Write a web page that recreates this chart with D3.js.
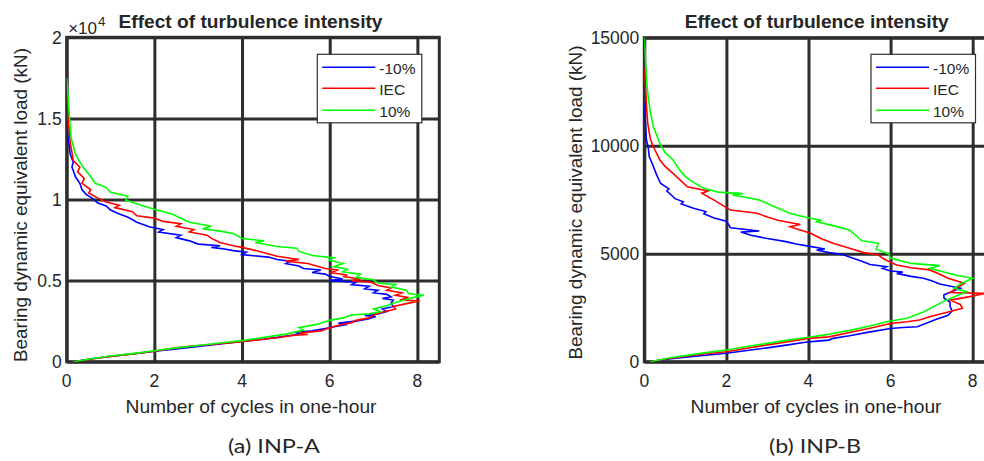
<!DOCTYPE html>
<html><head><meta charset="utf-8">
<script src="https://cdn.jsdelivr.net/npm/d3@7"></script>
<style>
html,body{margin:0;padding:0;background:#fff;}
svg{display:block;}
text{font-family:"Liberation Sans",Arial,sans-serif;fill:#262626;}
</style></head>
<body>
<svg id="chart" width="984" height="461"></svg>
<script>
// ---------- data ----------
const seriesNames = ["-10%", "IEC", "10%"];
const seriesColors = ["#0000ff", "#ff0000", "#00ff00"];
const xTicks = [0, 2, 4, 6, 8];
const yTicksA = [0, 5000, 10000, 15000, 20000];
const yTickLabelsA = ["0", "0.5", "1", "1.5", "2"];
const yTicksB = [0, 5000, 10000, 15000];
const yTickLabelsB = ["0", "5000", "10000", "15000"];
const titleText = "Effect of turbulence intensity";
const xLabelText = "Number of cycles in one-hour";
const yLabelText = "Bearing dynamic equivalent load (kN)";
const captions = ["(a) INP-A", "(b) INP-B"];

// [cycles, load kN]
const inpA_minus10 = [[0.15,0],[0.5,150],[0.9,300],[1.3,420],[1.7,540],[2.0,640],[2.4,760],[2.8,880],[3.2,1000],[3.6,1130],[4.0,1250],[4.4,1370],[4.8,1500],[5.1,1620],[5.4,1750],[5.2,1800],[5.6,1900],[5.9,2050],[6.1,2150],[6.4,2300],[6.2,2380],[6.6,2500],[6.9,2650],[7.05,2780],[6.8,2850],[7.1,2950],[7.3,3100],[7.2,3250],[7.45,3400],[7.4,3600],[7.45,3800],[7.2,3900],[7.4,4000],[7.3,4150],[7.0,4250],[7.1,4400],[6.8,4500],[6.9,4650],[6.5,4750],[6.6,4900],[6.0,5000],[6.3,5100],[6.0,5250],[5.9,5400],[5.6,5500],[5.8,5650],[5.4,5750],[5.3,5900],[5.0,6050],[5.1,6200],[4.8,6300],[4.6,6450],[4.0,6600],[4.1,6750],[3.8,6850],[3.6,6950],[3.3,7050],[3.5,7150],[3.0,7250],[2.8,7450],[2.5,7650],[2.6,7800],[2.1,8000],[2.2,8150],[1.9,8300],[1.6,8600],[1.4,8900],[1.2,9100],[1.0,9350],[0.9,9600],[0.7,9800],[0.6,10050],[0.45,10300],[0.35,10600],[0.3,11000],[0.2,11400],[0.12,12000],[0.15,12300],[0.08,12800],[0.05,13500],[0.02,14000],[0,14300]];
const inpA_iec = [[0.15,0],[0.6,180],[1.0,320],[1.5,480],[2.0,640],[2.5,850],[2.8,950],[3.3,1060],[3.8,1180],[4.3,1320],[4.8,1480],[5.2,1640],[5.5,1680],[5.3,1760],[5.8,1900],[6.0,2100],[6.2,2250],[6.5,2400],[6.6,2550],[6.9,2700],[7.0,2900],[7.2,3050],[7.5,3250],[7.45,3400],[7.7,3550],[8.05,3750],[7.6,3800],[7.8,3950],[7.5,4100],[7.65,4250],[7.3,4400],[7.4,4550],[7.1,4700],[6.95,4900],[6.5,5000],[6.7,5100],[6.3,5250],[6.4,5350],[6.0,5500],[6.2,5650],[5.9,5750],[5.7,5900],[5.5,6050],[5.0,6200],[5.3,6300],[4.8,6500],[4.4,6800],[4.0,7050],[3.8,7150],[3.5,7350],[3.3,7600],[3.2,7800],[2.8,8000],[2.9,8150],[2.5,8350],[2.6,8500],[2.2,8650],[2.0,8850],[1.6,9000],[1.5,9250],[1.1,9500],[1.2,9650],[0.9,9850],[0.7,10100],[0.5,10400],[0.55,10600],[0.35,11000],[0.4,11300],[0.25,11700],[0.3,12000],[0.15,12400],[0.12,12900],[0.08,13500],[0.06,14200],[0.03,15000],[0.02,15700],[0,16300]];
const inpA_plus10 = [[0.15,0],[0.6,200],[1.0,350],[1.5,500],[2.0,680],[2.5,850],[3.0,1000],[3.5,1150],[4.0,1300],[4.5,1500],[5.0,1700],[5.4,1950],[5.3,2100],[5.7,2300],[6.0,2550],[6.3,2700],[6.5,2880],[6.9,2950],[7.15,3080],[7.0,3250],[7.3,3450],[7.5,3650],[7.7,3800],[7.9,3950],[8.15,4100],[7.8,4200],[7.75,4400],[7.4,4600],[7.5,4750],[7.1,4850],[7.0,5050],[6.6,5200],[6.7,5400],[6.3,5550],[6.4,5700],[6.1,5850],[6.3,6050],[6.0,6250],[6.1,6400],[5.6,6550],[5.3,6800],[5.25,7000],[4.8,7100],[4.3,7350],[4.5,7450],[4.0,7600],[3.8,7900],[3.5,8050],[3.1,8200],[3.3,8350],[2.8,8600],[2.4,9100],[2.0,9400],[1.7,9650],[1.35,9950],[1.4,10200],[1.0,10450],[0.9,10750],[0.65,11000],[0.55,11400],[0.4,11900],[0.3,12300],[0.2,12800],[0.15,13300],[0.1,13800],[0.08,14500],[0.06,15200],[0.04,16000],[0.02,16800],[0,17500]];

const inpB_minus10 = [[0.14,0],[0.6,130],[1.0,210],[1.5,300],[2.0,390],[2.5,520],[3.0,640],[3.5,780],[4.0,920],[4.5,1000],[4.6,1080],[5.0,1200],[5.5,1380],[6.0,1540],[6.3,1580],[6.65,1620],[6.9,1800],[7.1,1950],[7.4,2150],[7.5,2350],[7.45,2550],[7.45,2750],[7.3,2950],[7.3,3100],[7.5,3250],[7.7,3400],[7.2,3600],[7.0,3750],[6.8,3860],[6.5,3950],[6.15,4090],[6.3,4150],[6.0,4200],[5.8,4320],[5.9,4400],[5.5,4500],[5.3,4650],[5.0,4850],[4.85,4950],[4.5,5050],[4.2,5170],[4.4,5220],[4.0,5350],[3.7,5450],[3.45,5560],[3.0,5700],[2.6,5850],[2.35,6000],[2.8,6050],[2.1,6200],[2.0,6500],[1.7,6650],[1.45,6850],[1.5,6950],[1.2,7100],[0.9,7300],[0.95,7400],[0.75,7550],[0.55,7900],[0.6,8000],[0.4,8250],[0.3,8650],[0.22,9050],[0.12,9500],[0.1,9850],[0.05,10300],[0.04,10700],[0.02,11300],[0,12000]];
const inpB_iec = [[0.14,0],[0.6,150],[1.0,250],[1.5,370],[2.0,460],[2.5,620],[3.0,780],[3.5,930],[4.0,1080],[4.5,1150],[5.0,1350],[5.5,1550],[6.0,1770],[6.4,1850],[6.7,1930],[7.0,2100],[7.4,2300],[7.75,2470],[7.7,2650],[7.45,2850],[7.9,3000],[8.3,3160],[7.45,3200],[7.6,3400],[7.8,3630],[7.4,3860],[7.2,4050],[6.95,4250],[6.5,4350],[6.15,4480],[6.0,4600],[5.8,4800],[5.7,4950],[5.35,5050],[5.0,5250],[4.6,5480],[4.3,5700],[4.05,5950],[3.7,6150],[3.55,6250],[3.8,6350],[3.25,6550],[3.0,6700],[2.75,6870],[2.4,6950],[2.1,7020],[1.9,7250],[1.7,7480],[1.4,7800],[1.55,7900],[1.05,8100],[0.85,8450],[0.7,8720],[0.5,9050],[0.38,9340],[0.3,9650],[0.22,9950],[0.15,10300],[0.12,10600],[0.08,11100],[0.06,11650],[0.04,12300],[0.02,12900],[0,13600]];
const inpB_plus10 = [[0.14,0],[0.6,170],[1.0,280],[1.5,420],[2.0,540],[2.5,700],[3.0,850],[3.5,1000],[4.0,1130],[4.4,1240],[5.0,1450],[5.5,1650],[5.9,1850],[6.4,2010],[6.8,2300],[7.05,2550],[7.35,2850],[7.85,3240],[7.55,3400],[7.7,3600],[8.0,3860],[7.6,4000],[7.3,4150],[6.95,4320],[7.2,4450],[6.5,4550],[6.0,4800],[5.95,5000],[5.65,5200],[5.7,5480],[5.3,5600],[5.0,6100],[4.6,6300],[4.2,6480],[4.3,6550],[3.9,6700],[3.55,6870],[3.2,7150],[2.8,7490],[2.5,7600],[2.15,7720],[2.4,7780],[1.8,7850],[1.45,8030],[1.2,8300],[1.0,8570],[0.85,8900],[0.7,9340],[0.5,9700],[0.38,10100],[0.3,10500],[0.22,10880],[0.18,11250],[0.14,11650],[0.1,12200],[0.06,12900],[0.04,13600],[0.02,14300],[0,15000]];

// ---------- layout ----------
const panels = [
  {left:66.7, right:439.3, top:37.3, bottom:361.7, yMax:20000, yTicks:yTicksA, yLabels:yTickLabelsA,
   series:[inpA_minus10, inpA_iec, inpA_plus10], exp:true,
   titleX:250.5, xLabelX:251, yLabelX:26.7, yLabelY:205, captionX:274, legendX:317.3},
  {left:644.3, right:993.2, top:37.7, bottom:361.7, yMax:15000, yTicks:yTicksB, yLabels:yTickLabelsB,
   series:[inpB_minus10, inpB_iec, inpB_plus10], exp:false,
   titleX:816.7, xLabelX:816, yLabelX:581.7, yLabelY:202.5, captionX:815, legendX:871}
];

const svg = d3.select("#chart");
const gridColor = "#2e2e2e";

panels.forEach((p, pi) => {
  const x = d3.scaleLinear().domain([0, 8.5]).range([p.left, p.right]);
  const y = d3.scaleLinear().domain([0, p.yMax]).range([p.bottom, p.top]);
  const g = svg.append("g");

  g.append("rect").attr("x", p.left).attr("y", p.top)
    .attr("width", p.right - p.left).attr("height", p.bottom - p.top).attr("fill", "#fff");

  const xGrid = g.append("g").attr("transform", `translate(0,${p.bottom})`)
    .call(d3.axisBottom(x).tickValues(xTicks).tickSize(-(p.bottom - p.top)).tickFormat(""));
  const yGrid = g.append("g").attr("transform", `translate(${p.left},0)`)
    .call(d3.axisLeft(y).tickValues(p.yTicks).tickSize(-(p.right - p.left)).tickFormat(""));
  [xGrid, yGrid].forEach(a => {
    a.select(".domain").remove();
    a.selectAll("line").attr("stroke", gridColor).attr("stroke-width", 3);
  });

  g.append("g").selectAll("text").data(xTicks).join("text")
    .attr("x", d => x(d)).attr("y", p.bottom + 25.5)
    .attr("text-anchor", "middle").attr("font-size", 17.5).text(d => d);
  g.append("g").selectAll("text").data(p.yTicks).join("text")
    .attr("x", p.left - 5).attr("y", d => y(d) + 6.3)
    .attr("text-anchor", "end").attr("font-size", 17.5).text((d, i) => p.yLabels[i]);

  g.append("rect").attr("x", p.left).attr("y", p.top)
    .attr("width", p.right - p.left).attr("height", p.bottom - p.top)
    .attr("fill", "none").attr("stroke", gridColor).attr("stroke-width", 3);

  const clipId = "clip" + pi;
  svg.append("clipPath").attr("id", clipId).append("rect")
    .attr("x", p.left).attr("y", p.top - 2).attr("width", p.right - p.left + 10).attr("height", p.bottom - p.top + 2);
  const line = d3.line().x(d => x(d[0])).y(d => y(d[1]));
  g.append("g").attr("clip-path", `url(#${clipId})`)
    .selectAll("path").data(p.series).join("path")
    .attr("d", line).attr("fill", "none")
    .attr("stroke", (d, i) => seriesColors[i]).attr("stroke-width", 1.6)
    .attr("stroke-linejoin", "miter");

  g.append("text").attr("x", p.titleX).attr("y", 28).attr("text-anchor", "middle")
    .attr("font-weight", "bold").attr("font-size", 19).attr("fill", "#000")
    .attr("textLength", 264).attr("lengthAdjust", "spacingAndGlyphs").text(titleText);

  if (p.exp) {
    const t = g.append("text").attr("x", p.left + 1.5).attr("y", 33.5).attr("font-size", 17);
    t.append("tspan").text("\u00d710");
    t.append("tspan").attr("dx", 1).attr("dy", -8).attr("font-size", 13.5).text("4");
  }

  g.append("text").attr("x", p.xLabelX).attr("y", 413).attr("text-anchor", "middle")
    .attr("font-size", 18.5).attr("textLength", 251).attr("lengthAdjust", "spacingAndGlyphs").text(xLabelText);

  g.append("text").attr("transform", `translate(${p.yLabelX},${p.yLabelY}) rotate(-90)`)
    .attr("text-anchor", "middle").attr("font-size", 19)
    .attr("textLength", 314).attr("lengthAdjust", "spacingAndGlyphs").text(yLabelText);

  g.append("text").attr("x", p.captionX).attr("y", 453).attr("text-anchor", "middle")
    .attr("font-size", 19.5).attr("fill", "#000").style("font-family", "Lato, 'Open Sans', sans-serif")
    .attr("textLength", 92).attr("lengthAdjust", "spacingAndGlyphs").text(captions[pi]);

  const lx = p.legendX, ly = 54.3, lw = 104.5, lh = 68.5;
  const lg = g.append("g");
  lg.append("rect").attr("x", lx).attr("y", ly).attr("width", lw).attr("height", lh)
    .attr("fill", "#fff").attr("stroke", "#303030").attr("stroke-width", 1.2);
  const rowY = [67.3, 88.3, 110.2];
  seriesNames.forEach((n, i) => {
    lg.append("line").attr("x1", lx + 5).attr("x2", lx + 58).attr("y1", rowY[i]).attr("y2", rowY[i])
      .attr("stroke", seriesColors[i]).attr("stroke-width", 1.6);
    lg.append("text").attr("x", lx + 62).attr("y", rowY[i] + 6.5).attr("font-size", 15.5).text(n);
  });
});
</script>
</body></html>
